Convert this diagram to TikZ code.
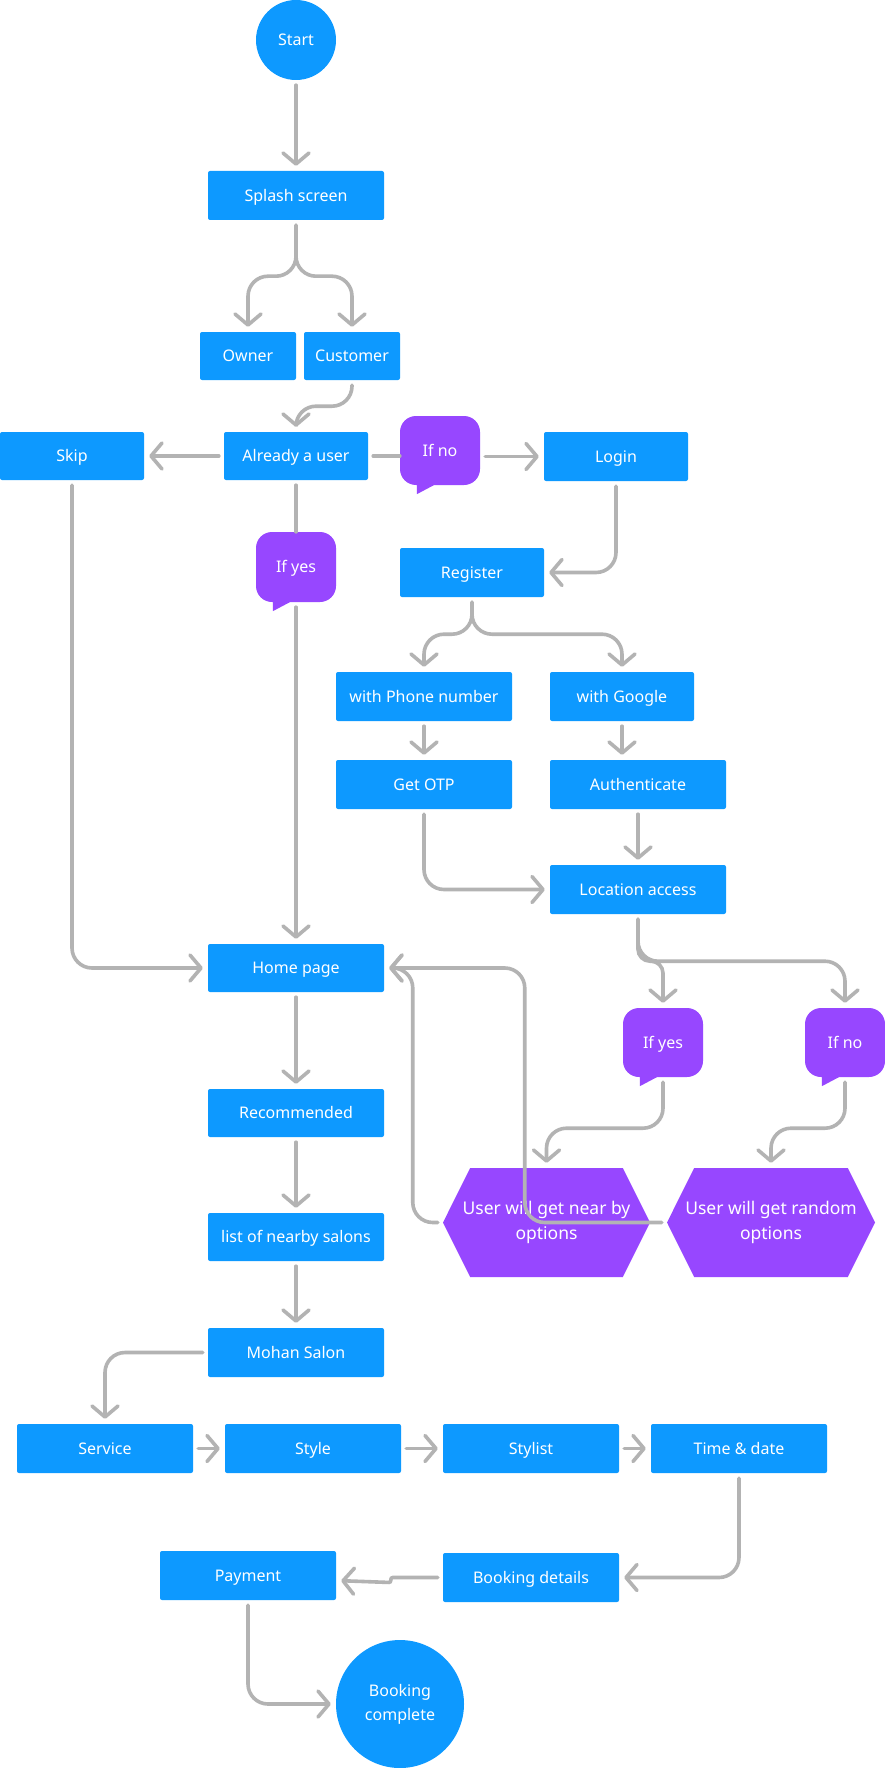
\documentclass[tikz,border=0pt]{standalone}
\usepackage{fontspec}
\setmainfont{Noto Sans}
\usetikzlibrary{arrows.meta,shapes.symbols}
\definecolor{node-blue}{HTML}{0D99FF}
\definecolor{note-violet}{HTML}{9747FF}
\definecolor{line-grey}{HTML}{B3B3B3}

\tikzset{
  screen/.style={fill=node-blue, text=white, rounded corners=2pt, inner sep=0pt,
    text height=11.4pt, text depth=0pt, minimum width=176pt, minimum height=49pt},
  terminal/.style={circle, fill=node-blue, text=white, inner sep=0pt, align=center},
  bubble/.style={fill=note-violet, text=white, rounded corners=16pt, inner sep=0pt,
    text height=11.4pt, text depth=0pt, minimum width=80pt, minimum height=69pt},
  hexbox/.style={signal, signal to=west and east, signal pointer angle=127,
    fill=note-violet, text=white, inner xsep=-12pt, inner ysep=0pt, align=center,
    minimum width=207pt, minimum height=109pt,
    font=\fontsize{17.5}{25}\selectfont},
  link/.style={draw=line-grey, line width=3.6pt, line cap=round, rounded corners=20pt,
    shorten <=5pt},
  conn/.style={link, shorten >=5pt, -{Straight Barb[length=11pt,width=26pt,round]}}
}

\begin{document}
\begin{tikzpicture}[x=1pt, y=-1pt, every node/.style={font=\fontsize{16}{24}\selectfont}]
  \path[fill=white, use as bounding box] (0,0) rectangle (885,1768);

  % entry
  \node[terminal, minimum size=80pt, text height=11.4pt, text depth=0pt] (start) at (296,40) {Start};
  \node[screen] (splash) at (296,195.5) {Splash screen};
  \node[screen, minimum width=96pt, minimum height=48pt] (owner) at (248,356) {Owner};
  \node[screen, minimum width=96pt, minimum height=48pt] (customer) at (352,356) {Customer};
  \node[screen, minimum width=144pt, minimum height=48pt] (skip) at (72,456) {Skip};
  \node[screen, minimum width=144pt, minimum height=48pt] (already) at (296,456) {Already a user};
  \node[bubble] (ifno) at (440,450.5) {If no};
  \node[screen, minimum width=144pt] (login) at (616,456.5) {Login};
  \node[bubble, minimum height=70pt] (ifyes) at (296,567) {If yes};

  % register
  \node[screen, minimum width=144pt] (register) at (472,572.5) {Register};
  \node[screen] (phone) at (424,696.5) {with Phone number};
  \node[screen, minimum width=144pt] (google) at (622,696.5) {with Google};
  \node[screen] (otp) at (424,784.5) {Get OTP};
  \node[screen] (auth) at (638,784.5) {Authenticate};
  \node[screen] (location) at (638,889.5) {Location access};
  \node[bubble] (locyes) at (663,1042.5) {If yes};
  \node[bubble] (locno) at (845,1042.5) {If no};
  \node[hexbox] (nearby) at (546.5,1222.5) {User will get near by\\options};
  \node[hexbox, minimum width=208pt] (random) at (771,1222.5) {User will get random\\options};

  % booking
  \node[screen, minimum height=48pt] (home) at (296,968) {Home page};
  \node[screen, minimum height=48pt] (recommended) at (296,1113) {Recommended};
  \node[screen, minimum height=48pt] (salons) at (296,1237) {list of nearby salons};
  \node[screen] (mohan) at (296,1352.5) {Mohan Salon};
  \node[screen] (service) at (105,1448.5) {Service};
  \node[screen] (style) at (313,1448.5) {Style};
  \node[screen] (stylist) at (531,1448.5) {Stylist};
  \node[screen] (timedate) at (739,1448.5) {Time \& date};
  \node[screen] (payment) at (248,1575.5) {Payment};
  \node[screen] (details) at (531,1577.5) {Booking details};
  \node[terminal, minimum size=128pt] (done) at (400,1704) {Booking\\complete};

  % bubble tails
  \foreach \b in {ifno,ifyes,locyes,locno}
    \fill[note-violet] ([xshift=17pt,yshift=3pt]\b.south west)
      -- ([xshift=17pt,yshift=-9pt]\b.south west)
      -- ([xshift=34pt,yshift=0pt]\b.south west) -- cycle;

  % connectors
  \draw[conn] (start) -- (splash);
  \draw[conn] (splash.south) -- ++(0,56) -| (owner.north);
  \draw[conn] (splash.south) -- ++(0,56) -| (customer.north);
  \draw[conn] (customer.south) -- ++(0,26) -| (already.north);
  \draw[conn] (already) -- (skip);
  \draw[link] (already.east) -- (already.east -| ifno.west);
  \draw[conn] (ifno.east |- login) -- (login.west);
  \draw[link] (already.south) -- (ifyes.north);
  \draw[conn] (ifyes.south) -- (home.north);
  \draw[conn] (skip.south) |- (home.west);
  \draw[conn] (login.south) |- (register.east);
  \draw[conn] (register.south) -- ++(0,37) -| (phone.north);
  \draw[conn] (register.south) -- ++(0,37) -| (google.north);
  \draw[conn] (phone) -- (otp);
  \draw[conn] (google.south) -- (google.south |- auth.north);
  \draw[conn] (auth) -- (location);
  \draw[conn] (otp.south) |- (location.west);
  \draw[conn, rounded corners=12pt] (location.south) -- ++(0,47) -| (locyes.north);
  \draw[conn] (location.south) -- ++(0,47) -| (locno.north);
  \draw[conn] (locyes.south) -- ++(0,51) -| (nearby.north);
  \draw[conn] (locno.south) -- ++(0,51) -| (random.north);
  \draw[conn] (nearby.west) -- ++(-30,0) |- (home.east);
  \draw[conn] (random.west) -- ++(-142,0) |- (home.east);
  \draw[conn] (home) -- (recommended);
  \draw[conn] (recommended) -- (salons);
  \draw[conn] (salons) -- (mohan);
  \draw[conn] (mohan.west) -| (service.north);
  \draw[conn] (service) -- (style);
  \draw[conn] (style) -- (stylist);
  \draw[conn] (stylist) -- (timedate);
  \draw[conn] (timedate.south) |- (details.east);
  \draw[conn, rounded corners=2pt] (details.west) -- ++(-52,0) -- ++(0,5) -- ([yshift=-5pt]payment.east);
  \draw[conn] (payment.south) |- (done.west);
\end{tikzpicture}
\end{document}
